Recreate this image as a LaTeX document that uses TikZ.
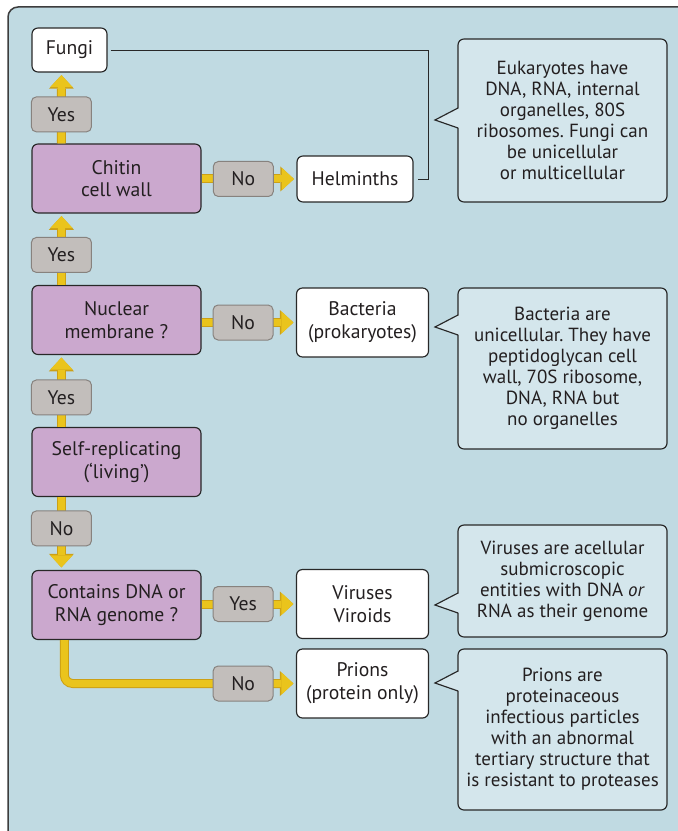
\documentclass[tikz,border=0pt]{standalone}
\usepackage{fontspec}
\setmainfont{PT Sans}
\frenchspacing
\usepackage{tikz}
\usetikzlibrary{arrows.meta}
\definecolor{bgblue}{RGB}{192,218,226}
\definecolor{notefill}{RGB}{212,230,236}
\definecolor{decfill}{RGB}{203,168,206}
\definecolor{ansfill}{RGB}{194,190,187}
\definecolor{ansedge}{RGB}{135,130,126}
\definecolor{flowyellow}{RGB}{234,196,28}
\definecolor{flowedge}{RGB}{204,160,22}
\definecolor{boxedge}{RGB}{40,40,40}
\definecolor{txt}{RGB}{35,31,32}
\tikzstyle{decision} = [draw=boxedge, line width=0.7pt, fill=decfill, rectangle,
    rounded corners=3.6pt, minimum width=101.4pt, minimum height=41.4pt,
    inner sep=0pt, align=center, text=txt, font=\fontsize{11.8}{13.6}\selectfont]
\tikzstyle{result} = [draw=boxedge, line width=0.7pt, fill=white, rectangle,
    rounded corners=3.6pt, minimum width=79.2pt, minimum height=41.4pt,
    inner sep=0pt, align=center, text=txt, font=\fontsize{11.8}{13.6}\selectfont]
\tikzstyle{answer} = [draw=ansedge, line width=0.6pt, fill=ansfill, rectangle,
    rounded corners=3pt, minimum width=36pt, minimum height=21pt,
    inner sep=0pt, text=txt, font=\fontsize{11.8}{13.6}\selectfont]
\tikzstyle{note} = [draw=boxedge, line width=0.7pt, fill=notefill, rectangle,
    rounded corners=3.6pt, minimum width=125.4pt,
    inner sep=0pt, align=center, text=txt, font=\fontsize{11.4}{12.6}\selectfont]
\tikzstyle{flow} = [draw=flowyellow, line width=4.2pt, shorten >=1.5pt,
    -{Triangle[width=13.4pt, length=7.2pt, line width=0pt, fill=flowyellow, color=flowyellow]},
    preaction={draw=flowedge, line width=5.4pt,
    -{Triangle[width=15pt, length=8.2pt, line width=0pt, fill=flowedge, color=flowedge]}}]
\tikzstyle{bracket} = [draw=boxedge, line width=0.5pt]
\tikzstyle{pointer} = [draw=boxedge, line width=0.7pt]
\tikzstyle{panel} = [draw=boxedge!90, line width=0.9pt]

\begin{document}
\begin{tikzpicture}[x=0.6pt, y=-0.6pt]

	% Page and panel
	\useasboundingbox (0,0) rectangle (677,831);
	\fill [white] (0,0) rectangle (677,831);
	\fill [bgblue, rounded corners=6pt] (8,7) rectangle (720,870);
	\draw [panel, rounded corners=6pt] (8,870) |- (720,7);

	% Questions
	\node [decision] (chitin) at (116.5,178.5) {Chitin\\cell wall};
	\node [decision] (nuclear) at (116.5,320) {Nuclear\\membrane ?};
	\node [decision] (selfrep) at (116.5,462) {Self-replicating\\(‘living’)};
	\node [decision] (dna) at (116.5,605) {Contains DNA or\\RNA genome ?};

	% Outcomes
	\node [result, minimum width=45pt, minimum height=26.4pt] (fungi) at (69.5,50) {Fungi};
	\node [result, minimum width=69.6pt, minimum height=27.6pt] (helminths) at (355,179) {Helminths};
	\node [result] (bacteria) at (362.5,322.5) {Bacteria\\(prokaryotes)};
	\node [result] (viruses) at (362.5,604) {Viruses\\Viroids};
	\node [result] (prions) at (362.5,683.5) {Prions\\(protein only)};

	% Notes on the right
	\node [note, minimum height=97.8pt] (euknote) at (562.5,120.5)
		{Eukaryotes have\\DNA, RNA, internal\\organelles, 80S\\ribosomes. Fungi can\\be unicellular\\or multicellular};
	\node [note, minimum height=96.6pt] (bactnote) at (562.5,368.5)
		{Bacteria are\\unicellular. They have\\peptidoglycan cell\\wall, 70S ribosome,\\DNA, RNA but\\no organelles};
	\node [note, minimum height=67.2pt] (virnote) at (562.5,581)
		{Viruses are acellular\\submicroscopic\\entities with DNA \textit{or}\\RNA as their genome};
	\node [note, minimum height=96.6pt] (prinote) at (562.5,729.5)
		{Prions are\\proteinaceous\\infectious particles\\with an abnormal\\tertiary structure that\\is resistant to proteases};

	% Note pointers
	\coordinate (euktip) at (435,120);
	\coordinate (bacttip) at (435,327);
	\coordinate (virtip) at (435,605);
	\coordinate (pritip) at (435,683);
	\fill [notefill] (euktip) ++(24.5,-12) -- (euktip) -- ++(24.5,8) -- cycle;
	\draw [pointer] (euktip) ++(23,-12) -- (euktip) -- ++(23,8);
	\fill [notefill] (bacttip) ++(24.5,-12) -- (bacttip) -- ++(24.5,8) -- cycle;
	\draw [pointer] (bacttip) ++(23,-12) -- (bacttip) -- ++(23,8);
	\fill [notefill] (virtip) ++(24.5,-12) -- (virtip) -- ++(24.5,8) -- cycle;
	\draw [pointer] (virtip) ++(23,-12) -- (virtip) -- ++(23,8);
	\fill [notefill] (pritip) ++(24.5,-12) -- (pritip) -- ++(24.5,8) -- cycle;
	\draw [pointer] (pritip) ++(23,-12) -- (pritip) -- ++(23,8);

	% Fungi and helminths share the eukaryote note
	\coordinate (turn) at (428,179);
	\draw [bracket] ([xshift=1.8pt]fungi.east) -| (turn) -- ([xshift=2.4pt]helminths.east);

	% Yes / No flows
	\draw [flow] ([xshift=18pt]chitin.north west) -- node [answer, pos=0.41] (yes1) {Yes} ([xshift=18pt]fungi.south west);
	\draw [flow] (helminths.west -| chitin.east) -- node [answer, pos=0.44] (no1) {No} (helminths.west);
	\draw [flow] ([xshift=18pt]nuclear.north west) -- node [answer, pos=0.42] (yes2) {Yes} ([xshift=18pt]chitin.south west);
	\draw [flow] (bacteria.west -| nuclear.east) -- node [answer, pos=0.44] (no2) {No} (bacteria.west);
	\draw [flow] ([xshift=18pt]selfrep.north west) -- node [answer, pos=0.41] (yes3) {Yes} ([xshift=18pt]nuclear.south west);
	\draw [flow] ([xshift=18pt]selfrep.south west) -- node [answer, pos=0.43] (no3) {No} ([xshift=18pt]dna.north west);
	\draw [flow] (viruses.west -| dna.east) -- node [answer, pos=0.44] (yes4) {Yes} (viruses.west);
	\draw [flow, rounded corners=5pt] ([xshift=19.8pt]dna.south west) |- node [answer, pos=0.886] (no4) {No} (prions.west);
\end{tikzpicture}
\end{document}
